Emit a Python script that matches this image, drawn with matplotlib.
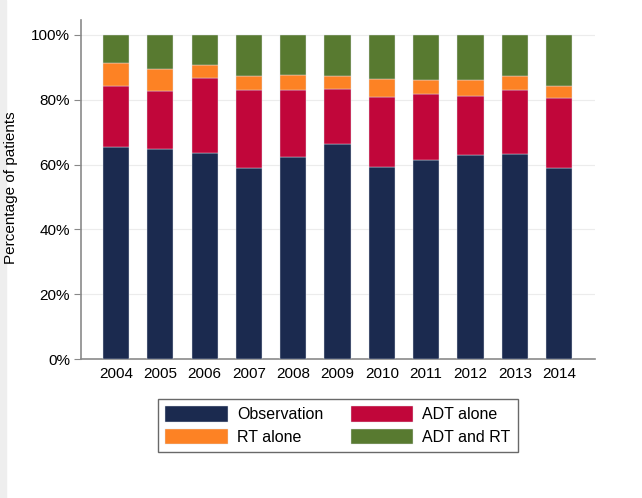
import numpy as np
import matplotlib
matplotlib.use('Agg')
import matplotlib.pyplot as plt
from matplotlib.patches import Rectangle

# Dados (% por categoria e ano)
anos = ['2004', '2005', '2006', '2007', '2008', '2009',
        '2010', '2011', '2012', '2013', '2014']
observation = [65.4, 64.9, 63.6, 58.9, 62.3, 66.4, 59.2, 61.4, 63.0, 63.1, 59.0]
adt_alone = [18.8, 17.9, 23.0, 24.1, 20.8, 16.8, 21.5, 20.4, 18.3, 19.9, 21.6]
rt_alone = [7.0, 6.6, 4.1, 4.4, 4.6, 4.1, 5.8, 4.3, 4.8, 4.3, 3.7]
adt_and_rt = [8.8, 10.6, 9.3, 12.6, 12.3, 12.7, 13.5, 13.9, 13.9, 12.7, 15.7]

series = [
    ('Observation', observation, '#1b2a4f'),
    ('ADT alone', adt_alone, '#c1063a'),
    ('RT alone', rt_alone, '#fd8224'),
    ('ADT and RT', adt_and_rt, '#587a30'),
]

plt.rcParams['font.family'] = ['Liberation Sans', 'DejaVu Sans']

fig = plt.figure(figsize=(6.42, 4.98), dpi=100)
# faixa cinza na borda esquerda
fig.patches.append(Rectangle((0, 0), 6 / 642, 1, transform=fig.transFigure,
                             color='#eeeeee', zorder=0))

ax = fig.add_axes([81 / 642, 139 / 498, 514 / 642, 339 / 498])

x = np.arange(len(anos))
base = np.zeros(len(anos))
handles = {}
for nome, vals, cor in series:
    vals = np.array(vals)
    b = ax.bar(x, vals, width=0.59, bottom=base, color=cor, zorder=3,
               edgecolor='#dfe3ea', linewidth=0.3)
    handles[nome] = b
    base = base + vals

ax.set_xlim(-0.79, 10.81)
ax.set_ylim(0, 104.6)
ax.set_yticks([0, 20, 40, 60, 80, 100])
ax.set_yticklabels(['0%', '20%', '40%', '60%', '80%', '100%'])
ax.set_xticks(x)
ax.set_xticklabels(anos)
ax.tick_params(axis='x', length=0, labelsize=11, pad=6)
ax.tick_params(axis='y', length=5, color='#888888', labelsize=11, pad=3)
ax.yaxis.grid(True, color='#ececec', linewidth=0.8, zorder=0)
ax.set_axisbelow(True)

for lado in ['top', 'right']:
    ax.spines[lado].set_visible(False)
for lado in ['left', 'bottom']:
    ax.spines[lado].set_color('#8a8a8a')
    ax.spines[lado].set_linewidth(1.2)

# rótulo do eixo y encostado na borda esquerda
fig.text(4 / 642, 1 - 188 / 498, 'Percentage of patients', rotation=90,
         ha='left', va='center', fontsize=11, zorder=5)

ordem = ['Observation', 'RT alone', 'ADT alone', 'ADT and RT']
leg = fig.legend([handles[n] for n in ordem], ordem, ncol=2,
                 loc='center', bbox_to_anchor=(338 / 642, 1 - 425.5 / 498),
                 fontsize=11.5, frameon=True, fancybox=False,
                 handlelength=3.9, handleheight=1.1, columnspacing=1.7,
                 handletextpad=0.6, labelspacing=0.4, borderpad=0.45)
leg.get_frame().set_edgecolor('#444444')
leg.get_frame().set_linewidth(1.0)

plt.savefig('out.png', dpi=100)
